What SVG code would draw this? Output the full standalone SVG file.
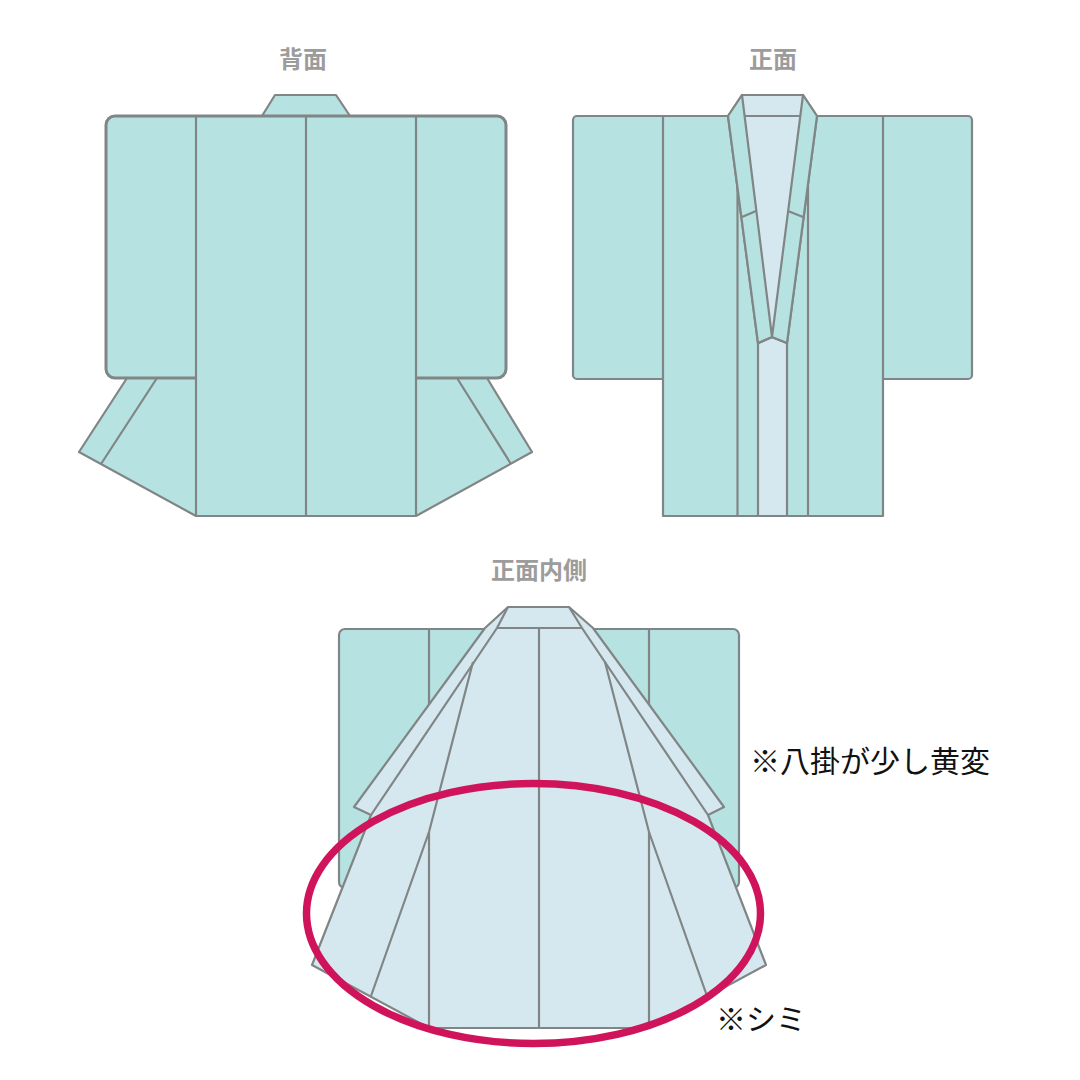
<svg xmlns="http://www.w3.org/2000/svg" width="1080" height="1080" viewBox="0 0 1080 1080">
<style>
.t{fill:#b6e2e1;stroke:#808585;stroke-width:2.200;stroke-linejoin:round}
.l{fill:#d6e8ef;stroke:#808585;stroke-width:2.200;stroke-linejoin:round}
.n{fill:none;stroke:#808585;stroke-width:2.200;stroke-linejoin:round}
.heavy{stroke-width:3}
.title{font-family:"Noto Sans CJK JP",sans-serif;font-weight:700;font-size:24px;fill:#9c9c9c;text-anchor:middle}
.note{font-family:"Noto Sans CJK JP",sans-serif;font-weight:400;font-size:30px;fill:#111}
</style>
<rect width="1080" height="1080" fill="#fff"/>

<!-- back view -->
<g id="back">
<text class="title" x="303" y="68">背面</text>
<path class="t" d="M262 116L275 95H336L350 116Z"/>
<path class="t" d="M127 378L79 452L196 516H416L532 452L487 378Z"/>
<path class="n" d="M157 378L101 464M457 378L511 464"/>
<rect class="t heavy" x="106" y="116" width="400" height="262" rx="9"/>
<path d="M196 374H416V515H196Z" fill="#b6e2e1"/>
<path class="n" d="M196 116V516M306 116V516M416 116V516"/>
</g>

<!-- front view -->
<g id="front">
<text class="title" x="773" y="68">正面</text>
<rect class="t" x="573" y="116" width="399" height="263" rx="4"/>
<path class="t" d="M663 116V516H883V116Z"/>
<path class="n" d="M737.500 180V516M808 180V516"/>
<path class="l" d="M758 343L772 337L787 343V516H758Z"/>
<path class="l" d="M742 95H803L817 116L787 343L772 337L758 343L728 116Z"/>
<path class="t" d="M742 95L772 337L758 343L728 116Z"/>
<path class="t" d="M803 95L772 337L787 343L817 116Z"/>
<path class="n" d="M742 217L756 211M788 211L803 217M745 116H800"/>
</g>

<!-- front view, opened to show the lining -->
<g id="inside">
<text class="title" x="539" y="579">正面内側</text>
<rect class="t" x="339" y="629" width="400" height="259" rx="6"/>
<path class="n" d="M429 629V710M649 629V710"/>
<path class="l" d="M508 607H569L593 628L724 807L708 815L766 965L649 1028H429L312 965L371 815L354 807L485 628Z"/>
<path class="n" d="M508 607L497 628L371 815M569 607L582 628L708 815M497 628H582"/>
<path class="n" d="M473 662L429 832L371 996M605 662L649 832L707 996"/>
<path class="n" d="M429 832V1028M649 832V1028M539 628V1028"/>
</g>

<ellipse id="mark" cx="533.500" cy="913.500" rx="227" ry="130" fill="none" stroke="#d0145b" stroke-width="7.500"/>

<g id="notes">
<text class="note" x="750" y="772">※八掛が少し黄変</text>
<text class="note" x="716" y="1030">※シミ</text>
</g>
</svg>
